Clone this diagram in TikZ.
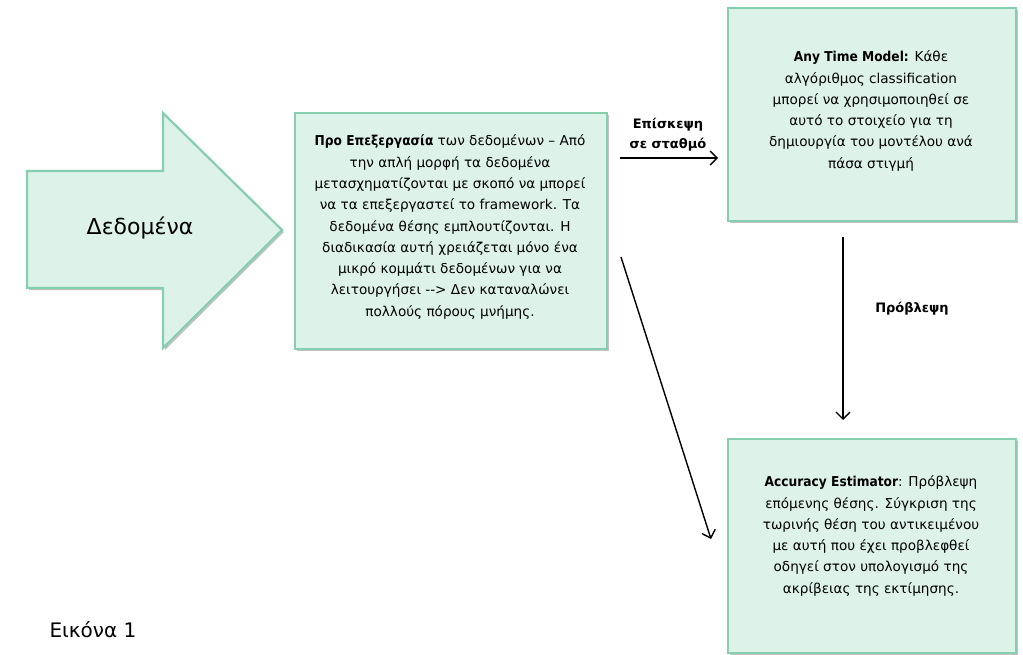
\documentclass[tikz,border=0pt]{standalone}
\usepackage{fontspec}
\setmainfont{DejaVu Sans}[BoldFont={DejaVu Sans Condensed Bold}]
\newfontfamily\lblfont{DejaVu Sans}
\usetikzlibrary{arrows.meta,shadows}
\definecolor{boxfill}{HTML}{DDF2E9}
\definecolor{boxline}{HTML}{86CFAE}
\tikzset{
  greenbox/.style={draw=boxline, line width=2.2pt, fill=boxfill, inner sep=0pt,
    drop shadow={shadow xshift=2pt, shadow yshift=-2pt, fill=black!40, opacity=0.6},
    anchor=north west},
  boxtext/.style={align=center, font=\fontsize{13.6}{21.3}\selectfont},
  conn/.style={-{Straight Barb[length=7pt,width=14pt]}, line width=1.4pt, black},
  lbl/.style={font=\lblfont\bfseries\fontsize{13}{20}\selectfont, align=center},
}
\begin{document}
\begin{tikzpicture}[x=1pt,y=-1pt]
\useasboundingbox (0,0) rectangle (1023,654);
% big arrow
\path[draw=boxline, line width=2.2pt, fill=boxfill,
  drop shadow={shadow xshift=2pt, shadow yshift=-2pt, fill=black!40, opacity=0.6}]
  (27,171) -- (163,171) -- (163,113) -- (282,230) -- (163,348) -- (163,288) -- (27,288) -- cycle;
\node[font=\fontsize{22}{24}\selectfont] (data) at (140,228) {Δεδομένα};
% boxes
\node[greenbox, minimum width=312pt, minimum height=236pt] (pre) at (294,112) {};
\node[boxtext] (pretext) at (450,227)
 {\textbf{Προ Επεξεργασία} των δεδομένων – Από\\
  την απλή μορφή τα δεδομένα\\
  μετασχηματίζονται με σκοπό να μπορεί\\
  να τα επεξεργαστεί το framework. Τα\\
  δεδομένα θέσης εμπλουτίζονται. Η\\
  διαδικασία αυτή χρειάζεται μόνο ένα\\
  μικρό κομμάτι δεδομένων για να\\
  λειτουργήσει -{}-> Δεν καταναλώνει\\
  πολλούς πόρους μνήμης.};
\node[greenbox, minimum width=288pt, minimum height=213pt] (model) at (727,7) {};
\node[boxtext] (modeltext) at (871,111)
 {\textbf{Any Time Model:} Κάθε\\
  αλγόριθμος classification\\
  μπορεί να χρησιμοποιηθεί σε\\
  αυτό το στοιχείο για τη\\
  δημιουργία του μοντέλου ανά\\
  πάσα στιγμή};
\node[greenbox, minimum width=288pt, minimum height=214pt] (acc) at (727,438) {};
\node[boxtext] (acctext) at (871,536)
 {\textbf{Accuracy Estimator}: Πρόβλεψη\\
  επόμενης θέσης. Σύγκριση της\\
  τωρινής θέση του αντικειμένου\\
  με αυτή που έχει προβλεφθεί\\
  οδηγεί στον υπολογισμό της\\
  ακρίβειας της εκτίμησης.};
% connectors
\coordinate (a1s) at (620,158);
\coordinate (a1e) at (718,158);
\coordinate (a2s) at (843,237);
\coordinate (a2e) at (843,420);
\coordinate (a3s) at (621,257);
\coordinate (a3e) at (711,539);
\draw[conn] (a1s) -- (a1e);
\draw[conn] (a2s) -- (a2e);
\draw[conn] (a3s) -- (a3e);
\node[lbl] (l1) at (668,135) {Επίσκεψη\\σε σταθμό};
\node[lbl] (l2) at (912,309) {Πρόβλεψη};
\node[font=\fontsize{20}{22}\selectfont, anchor=west] (fig) at (46,630) {Εικόνα 1};
\end{tikzpicture}
\end{document}
